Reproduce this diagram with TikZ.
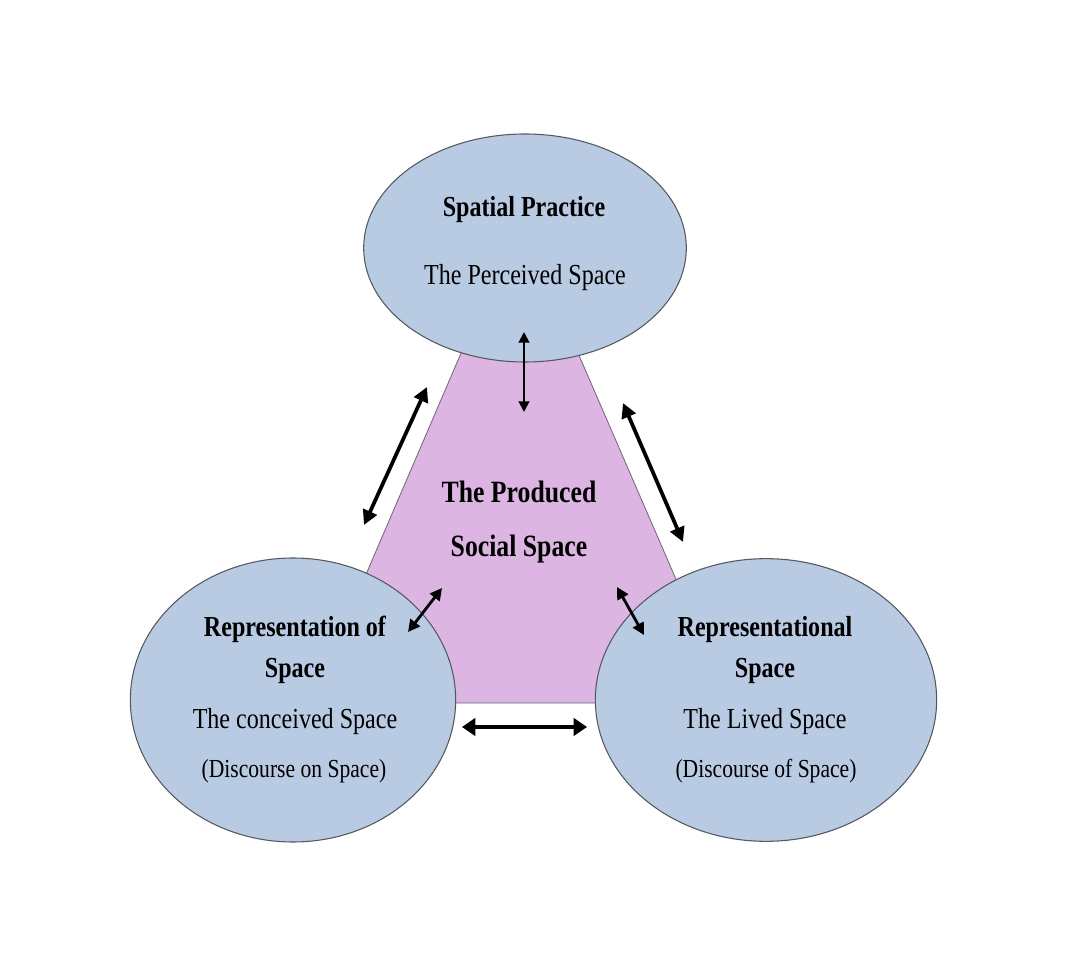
\documentclass[tikz,border=0pt]{standalone}
\usepackage{fontspec}
\setmainfont{Liberation Serif}[FakeStretch=0.83]
\usetikzlibrary{arrows.meta,shapes.geometric}
\definecolor{ellfill}{RGB}{185,203,227}
\definecolor{ellline}{RGB}{85,88,95}
\definecolor{pinkfill}{RGB}{221,181,227}
\definecolor{pinkline}{RGB}{110,100,115}
\tikzset{
  x=0.75pt, y=-0.75pt,
  spacebubble/.style={ellipse, draw=ellline, line width=0.8pt, fill=ellfill, inner sep=0pt},
  headtxt/.style={font=\fontsize{21.75}{24}\selectfont\bfseries, anchor=base, inner sep=0pt},
  subtxt/.style={font=\fontsize{21.75}{24}\selectfont, anchor=base, inner sep=0pt},
  partxt/.style={font=\fontsize{19.5}{22}\selectfont, anchor=base, inner sep=0pt},
  midtxt/.style={font=\fontsize{23.25}{26}\selectfont\bfseries, anchor=base, inner sep=0pt},
  dblarrow/.style={{Triangle[length=#1pt,width=#1pt]}-{Triangle[length=#1pt,width=#1pt]}, black},
}
\begin{document}
\begin{tikzpicture}
\useasboundingbox (0,0) rectangle (1065,973);
% produced social space (pink polygon)
\draw[fill=pinkfill, draw=pinkline, line width=0.6pt]
  (471,330) -- (568,330) -- (685,600) -- (640,703) -- (400,703) -- (355,600) -- cycle;
% ellipses
\node[spacebubble, minimum width=242pt, minimum height=171pt] (sp) at (525,248) {};
\node[spacebubble, minimum width=244pt, minimum height=213pt] (ros) at (293,700) {};
\node[spacebubble, minimum width=256pt, minimum height=212pt] (rs) at (766,700) {};
% texts
\node[headtxt] (sp1) at (524,217) {Spatial Practice};
\node[subtxt]  (sp2) at (525,285) {The Perceived Space};
\node[midtxt]  (m1) at (519,503) {The Produced};
\node[midtxt]  (m2) at (519,557) {Social Space};
\node[headtxt] (l1) at (295,637) {Representation of};
\node[headtxt] (l2) at (295,677) {Space};
\node[subtxt]  (l3) at (295,728) {The conceived Space};
\node[partxt]  (l4) at (294,777) {(Discourse on Space)};
\node[headtxt] (r1) at (765,637) {Representational};
\node[headtxt] (r2) at (765,677) {Space};
\node[subtxt]  (r3) at (765,728) {The Lived Space};
\node[partxt]  (r4) at (766,777) {(Discourse of Space)};
% arrow end points
\coordinate (a1s) at (524,332); \coordinate (a1e) at (524,412);
\coordinate (a2s) at (427,387); \coordinate (a2e) at (364,525);
\coordinate (a3s) at (623,403); \coordinate (a3e) at (683,542);
\coordinate (a4s) at (442,588); \coordinate (a4e) at (408,632);
\coordinate (a5s) at (617,587); \coordinate (a5e) at (644,635);
\coordinate (a6s) at (462,727); \coordinate (a6e) at (587,727);
% arrows
\draw[dblarrow=8, line width=1.5pt] (a1s) -- (a1e);
\draw[dblarrow=11, line width=2.8pt] (a2s) -- (a2e);
\draw[dblarrow=11, line width=2.8pt] (a3s) -- (a3e);
\draw[dblarrow=9, line width=2.1pt] (a4s) -- (a4e);
\draw[dblarrow=9, line width=2.1pt] (a5s) -- (a5e);
\draw[{Triangle[length=10pt,width=13pt]}-{Triangle[length=10pt,width=13pt]}, line width=3.6pt] (a6s) -- (a6e);
\end{tikzpicture}
\end{document}
